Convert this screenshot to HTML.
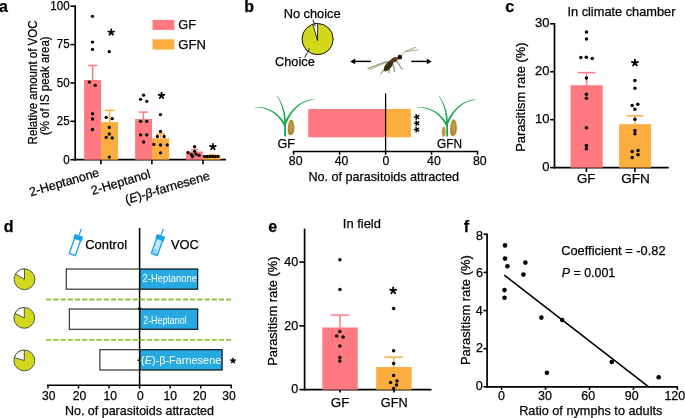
<!DOCTYPE html>
<html><head><meta charset="utf-8"><title>Figure</title>
<style>
html,body{margin:0;padding:0;background:#fff;width:685px;height:418px;overflow:hidden;}
svg{display:block;will-change:transform;font-family:"Liberation Sans",sans-serif;}
text{stroke:#000;stroke-width:0.25px;}
text.w{stroke:none;}
</style></head><body>
<svg width="685" height="418" viewBox="0 0 685 418">
<text x="-0.9" y="11.7" font-size="16" font-weight="bold">a</text>
<line x1="75.20" y1="5.35" x2="75.20" y2="160.55" stroke="#000" stroke-width="1.7" />
<line x1="70.40" y1="159.70" x2="75.20" y2="159.70" stroke="#000" stroke-width="1.6" />
<text x="63.18" y="163.55" font-size="12.0" textLength="6.41" lengthAdjust="spacingAndGlyphs" >0</text>
<line x1="70.40" y1="121.32" x2="75.20" y2="121.32" stroke="#000" stroke-width="1.6" />
<text x="56.82" y="125.17" font-size="12.0" textLength="12.81" lengthAdjust="spacingAndGlyphs" >25</text>
<line x1="70.40" y1="82.95" x2="75.20" y2="82.95" stroke="#000" stroke-width="1.6" />
<text x="56.78" y="86.80" font-size="12.0" textLength="12.81" lengthAdjust="spacingAndGlyphs" >50</text>
<line x1="70.40" y1="44.57" x2="75.20" y2="44.57" stroke="#000" stroke-width="1.6" />
<text x="56.82" y="48.42" font-size="12.0" textLength="12.81" lengthAdjust="spacingAndGlyphs" >75</text>
<line x1="70.40" y1="6.20" x2="75.20" y2="6.20" stroke="#000" stroke-width="1.6" />
<text x="50.37" y="10.05" font-size="12.0" textLength="19.22" lengthAdjust="spacingAndGlyphs" >100</text>
<line x1="74.35" y1="159.70" x2="226.00" y2="159.70" stroke="#000" stroke-width="1.7" />
<line x1="100.90" y1="159.70" x2="100.90" y2="164.20" stroke="#000" stroke-width="1.6" />
<line x1="151.90" y1="159.70" x2="151.90" y2="164.20" stroke="#000" stroke-width="1.6" />
<line x1="203.00" y1="159.70" x2="203.00" y2="164.20" stroke="#000" stroke-width="1.6" />
<line x1="92.60" y1="65.50" x2="92.60" y2="80.00" stroke="#fe7a80" stroke-width="1.5" />
<line x1="88.00" y1="65.50" x2="97.20" y2="65.50" stroke="#fe7a80" stroke-width="1.5" />
<line x1="109.60" y1="110.30" x2="109.60" y2="122.10" stroke="#fbae3f" stroke-width="1.5" />
<line x1="105.00" y1="110.30" x2="114.20" y2="110.30" stroke="#fbae3f" stroke-width="1.5" />
<line x1="143.40" y1="112.10" x2="143.40" y2="119.00" stroke="#fe7a80" stroke-width="1.5" />
<line x1="138.80" y1="112.10" x2="148.00" y2="112.10" stroke="#fe7a80" stroke-width="1.5" />
<line x1="160.60" y1="133.90" x2="160.60" y2="138.30" stroke="#fbae3f" stroke-width="1.5" />
<line x1="156.30" y1="133.90" x2="164.90" y2="133.90" stroke="#fbae3f" stroke-width="1.5" />
<line x1="194.60" y1="149.50" x2="194.60" y2="151.50" stroke="#fe7a80" stroke-width="1.5" />
<line x1="191.10" y1="149.50" x2="198.10" y2="149.50" stroke="#fe7a80" stroke-width="1.5" />
<line x1="211.70" y1="154.60" x2="211.70" y2="155.60" stroke="#fbae3f" stroke-width="1.5" />
<line x1="208.70" y1="154.60" x2="214.70" y2="154.60" stroke="#fbae3f" stroke-width="1.5" />
<rect x="84.10" y="80.00" width="17.00" height="79.70" fill="#fe7a80" />
<rect x="101.10" y="122.10" width="17.00" height="37.60" fill="#fbae3f" />
<rect x="135.10" y="119.00" width="16.90" height="40.70" fill="#fe7a80" />
<rect x="152.00" y="138.30" width="17.20" height="21.40" fill="#fbae3f" />
<rect x="186.20" y="151.50" width="16.80" height="8.20" fill="#fe7a80" />
<rect x="203.00" y="155.60" width="17.50" height="4.10" fill="#fbae3f" />
<circle cx="92.50" cy="16.30" r="1.65"/>
<circle cx="92.50" cy="42.10" r="1.65"/>
<circle cx="92.50" cy="49.40" r="1.65"/>
<circle cx="89.30" cy="82.10" r="1.65"/>
<circle cx="95.30" cy="85.30" r="1.65"/>
<circle cx="92.50" cy="113.70" r="1.65"/>
<circle cx="92.50" cy="119.00" r="1.65"/>
<circle cx="92.50" cy="129.50" r="1.65"/>
<circle cx="109.30" cy="51.70" r="1.65"/>
<circle cx="106.20" cy="117.40" r="1.65"/>
<circle cx="112.20" cy="118.70" r="1.65"/>
<circle cx="109.30" cy="127.40" r="1.65"/>
<circle cx="109.30" cy="134.00" r="1.65"/>
<circle cx="106.20" cy="137.40" r="1.65"/>
<circle cx="112.20" cy="137.90" r="1.65"/>
<circle cx="109.30" cy="157.10" r="1.65"/>
<circle cx="140.60" cy="99.30" r="1.65"/>
<circle cx="143.60" cy="95.20" r="1.65"/>
<circle cx="146.70" cy="101.30" r="1.65"/>
<circle cx="140.60" cy="121.30" r="1.65"/>
<circle cx="146.70" cy="121.30" r="1.65"/>
<circle cx="140.60" cy="134.90" r="1.65"/>
<circle cx="146.70" cy="134.90" r="1.65"/>
<circle cx="143.60" cy="142.00" r="1.65"/>
<circle cx="160.50" cy="114.60" r="1.65"/>
<circle cx="160.50" cy="131.40" r="1.65"/>
<circle cx="157.40" cy="136.50" r="1.65"/>
<circle cx="164.10" cy="136.50" r="1.65"/>
<circle cx="153.80" cy="144.40" r="1.65"/>
<circle cx="160.50" cy="145.00" r="1.65"/>
<circle cx="167.20" cy="145.00" r="1.65"/>
<circle cx="160.50" cy="152.80" r="1.65"/>
<circle cx="194.60" cy="146.70" r="1.65"/>
<circle cx="194.60" cy="151.30" r="1.65"/>
<circle cx="188.00" cy="152.60" r="1.65"/>
<circle cx="191.40" cy="154.60" r="1.65"/>
<circle cx="196.10" cy="154.20" r="1.65"/>
<circle cx="199.10" cy="155.40" r="1.65"/>
<circle cx="192.50" cy="156.50" r="1.65"/>
<circle cx="204.50" cy="156.40" r="1.65"/>
<circle cx="207.20" cy="156.50" r="1.65"/>
<circle cx="209.90" cy="156.40" r="1.65"/>
<circle cx="212.60" cy="156.40" r="1.65"/>
<circle cx="215.30" cy="156.50" r="1.65"/>
<circle cx="218.00" cy="156.30" r="1.65"/>
<path d="M111.20,32.40 L111.20,29.40 M111.20,32.40 L114.05,31.47 M111.20,32.40 L112.96,34.83 M111.20,32.40 L109.44,34.83 M111.20,32.40 L108.35,31.47 " stroke="#000" stroke-width="1.75" stroke-linecap="round" fill="none"/>
<path d="M161.50,95.60 L161.50,92.60 M161.50,95.60 L164.35,94.67 M161.50,95.60 L163.26,98.03 M161.50,95.60 L159.74,98.03 M161.50,95.60 L158.65,94.67 " stroke="#000" stroke-width="1.75" stroke-linecap="round" fill="none"/>
<path d="M212.90,146.80 L212.90,143.80 M212.90,146.80 L215.75,145.87 M212.90,146.80 L214.66,149.23 M212.90,146.80 L211.14,149.23 M212.90,146.80 L210.05,145.87 " stroke="#000" stroke-width="1.75" stroke-linecap="round" fill="none"/>
<rect x="152.50" y="19.90" width="21.80" height="10.00" fill="#fe7a80" />
<rect x="152.50" y="39.30" width="21.80" height="10.30" fill="#fbae3f" />
<text x="178.26" y="29.20" font-size="13" textLength="17.87" lengthAdjust="spacingAndGlyphs" >GF</text>
<text x="178.25" y="48.80" font-size="13" textLength="27.64" lengthAdjust="spacingAndGlyphs" >GFN</text>
<text transform="translate(37.00,144.40) rotate(-90)" font-size="12.8" textLength="123.85" lengthAdjust="spacingAndGlyphs">Relative amount of VOC</text>
<text transform="translate(49.00,135.06) rotate(-90)" font-size="12.8" textLength="98.69" lengthAdjust="spacingAndGlyphs">(% of IS peak area)</text>
<text transform="translate(100.00,176.00) rotate(-16.5)" font-size="12.5" text-anchor="end">2-Heptanone</text>
<text transform="translate(151.20,177.60) rotate(-16.5)" font-size="12.5" text-anchor="end">2-Heptanol</text>
<text transform="translate(210.60,179.20) rotate(-16.5)" font-size="12.5" text-anchor="end">(<tspan font-style="italic">E</tspan>)-<tspan font-style="italic">β</tspan>-farnesene</text>
<text x="244.2" y="11.7" font-size="16" font-weight="bold">b</text>
<text x="283.69" y="17.60" font-size="12.8" textLength="56.88" lengthAdjust="spacingAndGlyphs" >No choice</text>
<text x="275.06" y="66.45" font-size="12.8" textLength="39.71" lengthAdjust="spacingAndGlyphs" >Choice</text>
<circle cx="317.6" cy="39.1" r="15.6" fill="#d3d81d" stroke="#111" stroke-width="1"/>
<path d="M317.6,40.6 L312.78,24.26 A15.6,15.6 0 0 1 317.6,23.5 Z" fill="#fff" stroke="#111" stroke-width="0.9"/>
<line x1="312.80" y1="19.60" x2="315.40" y2="26.30" stroke="#111" stroke-width="0.9" />
<line x1="309.50" y1="48.40" x2="304.70" y2="57.60" stroke="#111" stroke-width="0.9" />
<line x1="370.90" y1="61.40" x2="353.70" y2="61.40" stroke="#000" stroke-width="1.5" />
<path d="M350.2,61.4 L355.20,58.60 L355.20,64.20 Z"/>
<line x1="411.20" y1="61.40" x2="428.30" y2="61.40" stroke="#000" stroke-width="1.5" />
<path d="M431.8,61.4 L426.80,58.60 L426.80,64.20 Z"/>
<g stroke-linecap="round" stroke-linejoin="round" fill="none">
<path d="M387,61.5 L368.2,68.4" stroke="#98a37a" stroke-width="1.5"/>
<path d="M385,63.2 L369.8,69.6" stroke="#aeb693" stroke-width="0.9"/>
<path d="M385.5,68.5 L383,71.2 L380.6,74" stroke="#8f9b70" stroke-width="1.1"/>
<path d="M389,66 L389.2,69.3 L388.9,72.7" stroke="#8f9b70" stroke-width="1.3"/>
<path d="M392,63.5 L393.6,66.2 L394.5,71.4" stroke="#8f9b70" stroke-width="1.3"/>
<path d="M396,61 L398.5,63.4 L401,68 L402.9,68.7" stroke="#8f9b70" stroke-width="1.2"/>
<path d="M401,55.5 L405.4,51.4 L411,49 L416,47.3" stroke="#a3ab86" stroke-width="1"/>
<path d="M405.2,51.8 L412,50.6 L418.3,49.9" stroke="#a3ab86" stroke-width="1"/>
<ellipse cx="388.6" cy="65.6" rx="6.9" ry="3.1" transform="rotate(-52 388.6 65.6)" fill="#3b2911" stroke="none"/>
<ellipse cx="394.2" cy="59.9" rx="3.8" ry="2.4" transform="rotate(-28 394.2 59.9)" fill="#5a3b18" stroke="none"/>
<path d="M386.5,66 C388,63.5 390,61.8 392.5,60.6" stroke="#6a4a22" stroke-width="1" opacity="0.7"/>
<ellipse cx="399.8" cy="57.2" rx="2.3" ry="2.4" fill="#15120c" stroke="none"/>
</g>
<path d="M286.00,136.50 L286.00,135.93 L286.00,135.37 L286.00,134.81 L286.00,134.25 L285.99,133.69 L285.99,133.13 L285.99,132.58 L285.99,132.02 L285.99,131.47 L285.99,130.92 L285.99,130.37 L285.98,129.83 L285.98,129.28 L285.98,128.74 L285.98,128.19 L285.98,127.65 L285.97,127.11 L285.97,126.57 L285.97,126.03 L285.97,125.49 L285.97,124.95 L285.96,124.42 L285.96,123.88 L285.96,123.34 L285.96,122.81 L285.95,122.27 L285.95,121.74 L285.95,121.20 L284.25,121.20 L284.25,121.74 L284.25,122.27 L284.24,122.81 L284.24,123.34 L284.24,123.88 L284.24,124.42 L284.23,124.95 L284.23,125.49 L284.23,126.03 L284.23,126.57 L284.23,127.11 L284.22,127.65 L284.22,128.19 L284.22,128.74 L284.22,129.28 L284.22,129.83 L284.21,130.37 L284.21,130.92 L284.21,131.47 L284.21,132.02 L284.21,132.58 L284.21,133.13 L284.21,133.69 L284.20,134.25 L284.20,134.81 L284.20,135.37 L284.20,135.93 L284.20,136.50 Z" fill="#16a84a"/>
<path d="M285.95,122.15 L285.88,121.08 L285.79,120.01 L285.68,118.94 L285.56,117.89 L285.42,116.84 L285.26,115.81 L285.08,114.78 L284.89,113.76 L284.68,112.76 L284.45,111.76 L284.21,110.77 L283.95,109.80 L283.67,108.83 L283.37,107.88 L283.05,106.93 L282.72,106.00 L282.37,105.09 L282.00,104.18 L281.61,103.29 L281.21,102.41 L280.78,101.54 L280.34,100.69 L279.88,99.84 L279.40,99.02 L278.91,98.21 L278.39,97.41 L277.86,96.63 L277.31,95.86 L276.89,96.14 L277.39,96.93 L277.87,97.73 L278.34,98.54 L278.78,99.37 L279.20,100.20 L279.61,101.05 L279.99,101.91 L280.36,102.78 L280.71,103.66 L281.05,104.55 L281.36,105.46 L281.66,106.37 L281.94,107.29 L282.21,108.22 L282.45,109.17 L282.69,110.12 L282.90,111.08 L283.10,112.05 L283.28,113.03 L283.45,114.02 L283.60,115.02 L283.74,116.03 L283.86,117.04 L283.96,118.07 L284.06,119.10 L284.13,120.14 L284.20,121.19 L284.25,122.25 Z" fill="#16a84a"/>
<path d="M285.93,125.23 L285.26,124.06 L284.56,122.91 L283.83,121.79 L283.07,120.70 L282.28,119.64 L281.47,118.62 L280.62,117.63 L279.75,116.68 L278.84,115.76 L277.91,114.88 L276.94,114.04 L275.94,113.25 L274.91,112.49 L273.84,111.78 L272.74,111.11 L271.60,110.49 L270.43,109.92 L269.23,109.39 L267.99,108.91 L266.71,108.49 L265.40,108.11 L264.04,107.79 L262.65,107.51 L261.22,107.30 L259.76,107.13 L258.25,107.02 L256.69,106.97 L255.10,106.98 L255.10,107.42 L256.67,107.49 L258.20,107.60 L259.68,107.78 L261.12,108.00 L262.50,108.28 L263.85,108.60 L265.15,108.98 L266.40,109.40 L267.62,109.87 L268.80,110.38 L269.93,110.94 L271.03,111.54 L272.09,112.19 L273.11,112.87 L274.10,113.59 L275.05,114.36 L275.98,115.15 L276.87,115.99 L277.73,116.86 L278.56,117.77 L279.36,118.71 L280.13,119.68 L280.88,120.69 L281.60,121.72 L282.30,122.79 L282.98,123.88 L283.63,125.01 L284.27,126.17 Z" fill="#16a84a"/>
<path d="M286.18,124.05 L286.70,122.73 L287.25,121.43 L287.84,120.14 L288.46,118.88 L289.12,117.63 L289.82,116.40 L290.55,115.20 L291.32,114.03 L292.13,112.88 L292.98,111.77 L293.86,110.69 L294.77,109.64 L295.73,108.64 L296.71,107.67 L297.74,106.75 L298.80,105.88 L299.89,105.05 L301.02,104.28 L302.19,103.55 L303.39,102.89 L304.63,102.27 L305.91,101.72 L307.22,101.24 L308.56,100.81 L309.95,100.46 L311.36,100.17 L312.82,99.96 L314.32,99.82 L314.28,99.38 L312.77,99.45 L311.28,99.60 L309.82,99.82 L308.38,100.12 L306.98,100.50 L305.61,100.94 L304.27,101.45 L302.97,102.02 L301.69,102.66 L300.45,103.36 L299.25,104.11 L298.07,104.92 L296.94,105.79 L295.84,106.70 L294.77,107.66 L293.74,108.67 L292.75,109.72 L291.80,110.81 L290.88,111.93 L290.00,113.10 L289.16,114.29 L288.36,115.51 L287.60,116.77 L286.88,118.04 L286.20,119.34 L285.56,120.67 L284.97,122.00 L284.42,123.35 Z" fill="#16a84a"/>
<path d="M448.00,136.50 L448.00,135.93 L448.00,135.37 L448.00,134.81 L448.00,134.25 L447.99,133.69 L447.99,133.13 L447.99,132.58 L447.99,132.02 L447.99,131.47 L447.99,130.92 L447.99,130.37 L447.98,129.83 L447.98,129.28 L447.98,128.74 L447.98,128.19 L447.98,127.65 L447.97,127.11 L447.97,126.57 L447.97,126.03 L447.97,125.49 L447.97,124.95 L447.96,124.42 L447.96,123.88 L447.96,123.34 L447.96,122.81 L447.95,122.27 L447.95,121.74 L447.95,121.20 L446.25,121.20 L446.25,121.74 L446.25,122.27 L446.24,122.81 L446.24,123.34 L446.24,123.88 L446.24,124.42 L446.23,124.95 L446.23,125.49 L446.23,126.03 L446.23,126.57 L446.23,127.11 L446.22,127.65 L446.22,128.19 L446.22,128.74 L446.22,129.28 L446.22,129.83 L446.21,130.37 L446.21,130.92 L446.21,131.47 L446.21,132.02 L446.21,132.58 L446.21,133.13 L446.21,133.69 L446.20,134.25 L446.20,134.81 L446.20,135.37 L446.20,135.93 L446.20,136.50 Z" fill="#16a84a"/>
<path d="M447.95,122.15 L447.88,121.08 L447.79,120.01 L447.68,118.94 L447.56,117.89 L447.42,116.84 L447.26,115.81 L447.08,114.78 L446.89,113.76 L446.68,112.76 L446.45,111.76 L446.21,110.77 L445.95,109.80 L445.67,108.83 L445.37,107.88 L445.05,106.93 L444.72,106.00 L444.37,105.09 L444.00,104.18 L443.61,103.29 L443.21,102.41 L442.78,101.54 L442.34,100.69 L441.88,99.84 L441.40,99.02 L440.91,98.21 L440.39,97.41 L439.86,96.63 L439.31,95.86 L438.89,96.14 L439.39,96.93 L439.87,97.73 L440.34,98.54 L440.78,99.37 L441.20,100.20 L441.61,101.05 L441.99,101.91 L442.36,102.78 L442.71,103.66 L443.05,104.55 L443.36,105.46 L443.66,106.37 L443.94,107.29 L444.21,108.22 L444.45,109.17 L444.69,110.12 L444.90,111.08 L445.10,112.05 L445.28,113.03 L445.45,114.02 L445.60,115.02 L445.74,116.03 L445.86,117.04 L445.96,118.07 L446.06,119.10 L446.13,120.14 L446.20,121.19 L446.25,122.25 Z" fill="#16a84a"/>
<path d="M447.93,125.23 L447.26,124.06 L446.56,122.91 L445.83,121.79 L445.07,120.70 L444.28,119.64 L443.47,118.62 L442.62,117.63 L441.75,116.68 L440.84,115.76 L439.91,114.88 L438.94,114.04 L437.94,113.25 L436.91,112.49 L435.84,111.78 L434.74,111.11 L433.60,110.49 L432.43,109.92 L431.23,109.39 L429.99,108.91 L428.71,108.49 L427.40,108.11 L426.04,107.79 L424.65,107.51 L423.22,107.30 L421.76,107.13 L420.25,107.02 L418.69,106.97 L417.10,106.98 L417.10,107.42 L418.67,107.49 L420.20,107.60 L421.68,107.78 L423.12,108.00 L424.50,108.28 L425.85,108.60 L427.15,108.98 L428.40,109.40 L429.62,109.87 L430.80,110.38 L431.93,110.94 L433.03,111.54 L434.09,112.19 L435.11,112.87 L436.10,113.59 L437.05,114.36 L437.98,115.15 L438.87,115.99 L439.73,116.86 L440.56,117.77 L441.36,118.71 L442.13,119.68 L442.88,120.69 L443.60,121.72 L444.30,122.79 L444.98,123.88 L445.63,125.01 L446.27,126.17 Z" fill="#16a84a"/>
<path d="M448.18,124.05 L448.70,122.73 L449.25,121.43 L449.84,120.14 L450.46,118.88 L451.12,117.63 L451.82,116.40 L452.55,115.20 L453.32,114.03 L454.13,112.88 L454.98,111.77 L455.86,110.69 L456.77,109.64 L457.73,108.64 L458.71,107.67 L459.74,106.75 L460.80,105.88 L461.89,105.05 L463.02,104.28 L464.19,103.55 L465.39,102.89 L466.63,102.27 L467.91,101.72 L469.22,101.24 L470.56,100.81 L471.95,100.46 L473.36,100.17 L474.82,99.96 L476.32,99.82 L476.28,99.38 L474.77,99.45 L473.28,99.60 L471.82,99.82 L470.38,100.12 L468.98,100.50 L467.61,100.94 L466.27,101.45 L464.97,102.02 L463.69,102.66 L462.45,103.36 L461.25,104.11 L460.07,104.92 L458.94,105.79 L457.84,106.70 L456.77,107.66 L455.74,108.67 L454.75,109.72 L453.80,110.81 L452.88,111.93 L452.00,113.10 L451.16,114.29 L450.36,115.51 L449.60,116.77 L448.88,118.04 L448.20,119.34 L447.56,120.67 L446.97,122.00 L446.42,123.35 Z" fill="#16a84a"/>
<path d="M291.19,119.40 C293.95,120.19 294.30,124.93 294.30,128.88 C294.30,132.83 292.57,135.20 290.16,135.20 C288.09,135.20 287.40,132.83 287.75,128.09 C288.09,124.14 289.12,119.72 291.19,119.40 Z" fill="#b08a38"/>
<ellipse cx="291.19" cy="126.51" rx="1.73" ry="4.42" fill="#caa552" opacity="0.6"/>
<path d="M453.65,119.20 C456.45,120.04 456.80,125.08 456.80,129.28 C456.80,133.48 455.05,136.00 452.60,136.00 C450.50,136.00 449.80,133.48 450.15,128.44 C450.50,124.24 451.55,119.54 453.65,119.20 Z" fill="#b08a38"/>
<ellipse cx="453.65" cy="126.76" rx="1.75" ry="4.70" fill="#caa552" opacity="0.6"/>
<ellipse cx="443.65" cy="131.8" rx="1.9" ry="5.0" fill="#c09a48"/>
<text x="277.57" y="147.70" font-size="12.8" textLength="17.44" lengthAdjust="spacingAndGlyphs" >GF</text>
<text x="437.01" y="148.40" font-size="12.8" textLength="24.97" lengthAdjust="spacingAndGlyphs" >GFN</text>
<rect x="308.20" y="109.00" width="77.40" height="28.30" fill="#fe7a80" />
<rect x="385.60" y="109.00" width="25.30" height="28.30" fill="#fbae3f" />
<line x1="385.60" y1="93.40" x2="385.60" y2="151.60" stroke="#000" stroke-width="1.3" />
<path d="M416.80,117.00 L414.50,117.00 M416.80,117.00 L416.09,114.81 M416.80,117.00 L418.66,115.65 M416.80,117.00 L418.66,118.35 M416.80,117.00 L416.09,119.19 " stroke="#000" stroke-width="1.5" stroke-linecap="round" fill="none"/>
<path d="M416.80,123.30 L414.50,123.30 M416.80,123.30 L416.09,121.11 M416.80,123.30 L418.66,121.95 M416.80,123.30 L418.66,124.65 M416.80,123.30 L416.09,125.49 " stroke="#000" stroke-width="1.5" stroke-linecap="round" fill="none"/>
<path d="M416.80,129.60 L414.50,129.60 M416.80,129.60 L416.09,127.41 M416.80,129.60 L418.66,128.25 M416.80,129.60 L418.66,130.95 M416.80,129.60 L416.09,131.79 " stroke="#000" stroke-width="1.5" stroke-linecap="round" fill="none"/>
<line x1="292.80" y1="151.60" x2="478.30" y2="151.60" stroke="#000" stroke-width="1.5" />
<line x1="293.60" y1="151.60" x2="293.60" y2="154.80" stroke="#000" stroke-width="1.5" />
<text x="288.80" y="165.40" font-size="13" textLength="13.74" lengthAdjust="spacingAndGlyphs" >80</text>
<line x1="339.60" y1="151.60" x2="339.60" y2="154.80" stroke="#000" stroke-width="1.5" />
<text x="334.73" y="165.40" font-size="13" textLength="13.74" lengthAdjust="spacingAndGlyphs" >40</text>
<line x1="385.60" y1="151.60" x2="385.60" y2="154.80" stroke="#000" stroke-width="1.5" />
<text x="382.55" y="165.40" font-size="13" textLength="6.87" lengthAdjust="spacingAndGlyphs" >0</text>
<line x1="431.50" y1="151.60" x2="431.50" y2="154.80" stroke="#000" stroke-width="1.5" />
<text x="427.03" y="165.40" font-size="13" textLength="13.74" lengthAdjust="spacingAndGlyphs" >40</text>
<line x1="477.50" y1="151.60" x2="477.50" y2="154.80" stroke="#000" stroke-width="1.5" />
<text x="473.00" y="165.40" font-size="13" textLength="13.74" lengthAdjust="spacingAndGlyphs" >80</text>
<text x="308.47" y="181.40" font-size="12.6" textLength="150.55" lengthAdjust="spacingAndGlyphs" >No. of parasitoids attracted</text>
<text x="505.3" y="11.7" font-size="16" font-weight="bold">c</text>
<text x="567.42" y="15.90" font-size="12.8" textLength="108.10" lengthAdjust="spacingAndGlyphs" >In climate chamber</text>
<line x1="554.50" y1="22.95" x2="554.50" y2="168.45" stroke="#000" stroke-width="1.7" />
<line x1="550.10" y1="167.60" x2="554.50" y2="167.60" stroke="#000" stroke-width="1.6" />
<text x="542.17" y="170.80" font-size="13" textLength="7.23" lengthAdjust="spacingAndGlyphs" >0</text>
<line x1="550.10" y1="119.67" x2="554.50" y2="119.67" stroke="#000" stroke-width="1.6" />
<text x="534.94" y="122.87" font-size="13" textLength="14.46" lengthAdjust="spacingAndGlyphs" >10</text>
<line x1="550.10" y1="71.73" x2="554.50" y2="71.73" stroke="#000" stroke-width="1.6" />
<text x="534.94" y="74.93" font-size="13" textLength="14.46" lengthAdjust="spacingAndGlyphs" >20</text>
<line x1="550.10" y1="23.80" x2="554.50" y2="23.80" stroke="#000" stroke-width="1.6" />
<text x="534.94" y="27.00" font-size="13" textLength="14.46" lengthAdjust="spacingAndGlyphs" >30</text>
<line x1="553.65" y1="167.60" x2="668.80" y2="167.60" stroke="#000" stroke-width="1.7" />
<line x1="586.40" y1="167.60" x2="586.40" y2="172.00" stroke="#000" stroke-width="1.6" />
<line x1="634.90" y1="167.60" x2="634.90" y2="172.00" stroke="#000" stroke-width="1.6" />
<line x1="586.60" y1="72.60" x2="586.60" y2="85.20" stroke="#fe7a80" stroke-width="1.5" />
<line x1="577.90" y1="72.60" x2="595.30" y2="72.60" stroke="#fe7a80" stroke-width="1.5" />
<line x1="634.90" y1="115.80" x2="634.90" y2="124.20" stroke="#fbae3f" stroke-width="1.5" />
<line x1="626.50" y1="115.80" x2="643.30" y2="115.80" stroke="#fbae3f" stroke-width="1.5" />
<rect x="570.50" y="85.20" width="32.20" height="82.40" fill="#fe7a80" />
<rect x="619.10" y="124.20" width="31.90" height="43.40" fill="#fbae3f" />
<circle cx="586.50" cy="31.90" r="1.75"/>
<circle cx="586.50" cy="38.90" r="1.75"/>
<circle cx="580.80" cy="57.60" r="1.75"/>
<circle cx="586.30" cy="57.20" r="1.75"/>
<circle cx="592.30" cy="58.60" r="1.75"/>
<circle cx="586.40" cy="78.00" r="1.75"/>
<circle cx="586.40" cy="94.30" r="1.75"/>
<circle cx="586.40" cy="98.30" r="1.75"/>
<circle cx="586.40" cy="127.70" r="1.75"/>
<circle cx="586.40" cy="145.40" r="1.75"/>
<circle cx="586.40" cy="148.80" r="1.75"/>
<circle cx="634.90" cy="80.40" r="1.75"/>
<circle cx="634.90" cy="88.30" r="1.75"/>
<circle cx="632.20" cy="105.60" r="1.75"/>
<circle cx="637.80" cy="104.30" r="1.75"/>
<circle cx="634.90" cy="109.30" r="1.75"/>
<circle cx="634.90" cy="119.30" r="1.75"/>
<circle cx="634.90" cy="130.50" r="1.75"/>
<circle cx="634.90" cy="133.70" r="1.75"/>
<circle cx="632.20" cy="151.40" r="1.75"/>
<circle cx="638.00" cy="150.50" r="1.75"/>
<circle cx="632.20" cy="157.40" r="1.75"/>
<circle cx="638.00" cy="154.80" r="1.75"/>
<path d="M634.90,62.90 L634.90,59.70 M634.90,62.90 L637.94,61.91 M634.90,62.90 L636.78,65.49 M634.90,62.90 L633.02,65.49 M634.90,62.90 L631.86,61.91 " stroke="#000" stroke-width="1.8" stroke-linecap="round" fill="none"/>
<text transform="translate(525.30,151.85) rotate(-90)" font-size="12.8" textLength="109.37" lengthAdjust="spacingAndGlyphs">Parasitism rate (%)</text>
<text x="577.04" y="182.60" font-size="12.8" textLength="18.40" lengthAdjust="spacingAndGlyphs" >GF</text>
<text x="621.22" y="182.60" font-size="12.8" textLength="28.71" lengthAdjust="spacingAndGlyphs" >GFN</text>
<text x="3.7" y="232.0" font-size="16" font-weight="bold">d</text>
<circle cx="24.5" cy="279.3" r="10.4" fill="#d3d81d" stroke="#333" stroke-width="0.8"/>
<path d="M24.5,279.3 L15.49,274.10 A10.4,10.4 0 0 1 24.5,268.90000000000003 Z" fill="#fff" stroke="#333" stroke-width="0.8"/>
<circle cx="24.3" cy="317.9" r="10.4" fill="#d3d81d" stroke="#333" stroke-width="0.8"/>
<path d="M24.3,317.9 L14.95,313.34 A10.4,10.4 0 0 1 24.3,307.5 Z" fill="#fff" stroke="#333" stroke-width="0.8"/>
<circle cx="24.3" cy="360.5" r="10.4" fill="#d3d81d" stroke="#333" stroke-width="0.8"/>
<path d="M24.3,360.5 L14.30,357.63 A10.4,10.4 0 0 1 24.3,350.1 Z" fill="#fff" stroke="#333" stroke-width="0.8"/>
<g transform="translate(75.5,245.4) rotate(19.4)"><rect x="-3.2" y="-9.4" width="6.4" height="19.0" fill="#fff" stroke="#12a4e6" stroke-width="1.35"/><path d="M-4.4,-10.6 L4.4,-10.6 L4.4,-6.0 L2.2,-6.0 L2.2,-4.8 L1.2,-6.0 L-0.6,-6.0 L-1.2,-4.2 L-1.8,-6.0 L-4.4,-6.0 Z" fill="#12a4e6"/><line x1="0" y1="-10.6" x2="0" y2="-17.6" stroke="#12a4e6" stroke-width="1.2"/></g>
<g transform="translate(157.5,245.4) rotate(19.4)"><rect x="-3.2" y="-9.4" width="6.4" height="19.0" fill="#c6e5f7" stroke="#12a4e6" stroke-width="1.35"/><path d="M-4.4,-10.6 L4.4,-10.6 L4.4,-6.0 L2.2,-6.0 L2.2,-4.8 L1.2,-6.0 L-0.6,-6.0 L-1.2,-4.2 L-1.8,-6.0 L-4.4,-6.0 Z" fill="#12a4e6"/><line x1="0" y1="-10.6" x2="0" y2="-17.6" stroke="#12a4e6" stroke-width="1.2"/><path d="M-2.2,8.3 L1.6,8.3 L-0.6,4.4 Z" fill="#e6f4fc" stroke="#12a4e6" stroke-width="0.6"/></g>
<text x="85.23" y="249.43" font-size="12.9" textLength="41.82" lengthAdjust="spacingAndGlyphs" >Control</text>
<text x="170.93" y="249.40" font-size="12.9" textLength="27.84" lengthAdjust="spacingAndGlyphs" >VOC</text>
<rect x="66.28" y="269.0" width="73.32" height="20.20" fill="#fff" stroke="#333" stroke-width="1.2"/>
<rect x="139.6" y="269.0" width="58.04" height="20.20" fill="#27a9e1" stroke="#111" stroke-width="1.2"/>
<rect x="69.33" y="309.0" width="70.27" height="20.30" fill="#fff" stroke="#333" stroke-width="1.2"/>
<rect x="139.6" y="309.0" width="58.04" height="20.30" fill="#27a9e1" stroke="#111" stroke-width="1.2"/>
<rect x="99.88" y="349.7" width="39.72" height="20.30" fill="#fff" stroke="#333" stroke-width="1.2"/>
<rect x="139.6" y="349.7" width="82.48" height="20.30" fill="#27a9e1" stroke="#111" stroke-width="1.2"/>
<text x="142.53" y="282.10" font-size="11" textLength="54.49" lengthAdjust="spacingAndGlyphs" fill="#fff" class="w">2-Heptanone</text>
<text x="143.16" y="323.50" font-size="11" textLength="43.43" lengthAdjust="spacingAndGlyphs" fill="#fff" class="w">2-Heptanol</text>
<text x="141.02" y="364.40" font-size="11" textLength="80.27" lengthAdjust="spacingAndGlyphs" fill="#fff" class="w">(<tspan font-style="italic">E</tspan>)-β-Farnesene</text>
<line x1="139.60" y1="228.00" x2="139.60" y2="385.30" stroke="#000" stroke-width="1.5" />
<line x1="46.00" y1="299.50" x2="231.00" y2="299.50" stroke="#8dc63f" stroke-width="1.8" stroke-dasharray="5.3 1.9"/>
<line x1="46.00" y1="339.80" x2="231.00" y2="339.80" stroke="#8dc63f" stroke-width="1.8" stroke-dasharray="5.3 1.9"/>
<path d="M233.00,360.70 L233.00,358.40 M233.00,360.70 L235.19,359.99 M233.00,360.70 L234.35,362.56 M233.00,360.70 L231.65,362.56 M233.00,360.70 L230.81,359.99 " stroke="#000" stroke-width="1.5" stroke-linecap="round" fill="none"/>
<ellipse cx="139.6" cy="308.7" rx="1.9" ry="1.1"/>
<line x1="137.30" y1="360.30" x2="139.60" y2="360.30" stroke="#000" stroke-width="1.2" />
<line x1="47.00" y1="385.30" x2="231.90" y2="385.30" stroke="#000" stroke-width="1.6" />
<line x1="47.95" y1="385.30" x2="47.95" y2="388.60" stroke="#000" stroke-width="1.5" />
<text x="42.04" y="399.80" font-size="12.4" textLength="13.52" lengthAdjust="spacingAndGlyphs" >30</text>
<line x1="78.50" y1="385.30" x2="78.50" y2="388.60" stroke="#000" stroke-width="1.5" />
<text x="72.87" y="399.80" font-size="12.4" textLength="13.52" lengthAdjust="spacingAndGlyphs" >20</text>
<line x1="109.05" y1="385.30" x2="109.05" y2="388.60" stroke="#000" stroke-width="1.5" />
<text x="103.51" y="399.80" font-size="12.4" textLength="13.52" lengthAdjust="spacingAndGlyphs" >10</text>
<line x1="139.60" y1="385.30" x2="139.60" y2="388.60" stroke="#000" stroke-width="1.5" />
<text x="137.01" y="399.80" font-size="12.4" textLength="6.76" lengthAdjust="spacingAndGlyphs" >0</text>
<line x1="170.15" y1="385.30" x2="170.15" y2="388.60" stroke="#000" stroke-width="1.5" />
<text x="163.51" y="399.80" font-size="12.4" textLength="13.52" lengthAdjust="spacingAndGlyphs" >10</text>
<line x1="200.70" y1="385.30" x2="200.70" y2="388.60" stroke="#000" stroke-width="1.5" />
<text x="193.07" y="399.80" font-size="12.4" textLength="13.52" lengthAdjust="spacingAndGlyphs" >20</text>
<line x1="231.25" y1="385.30" x2="231.25" y2="388.60" stroke="#000" stroke-width="1.5" />
<text x="222.24" y="399.80" font-size="12.4" textLength="13.52" lengthAdjust="spacingAndGlyphs" >30</text>
<text x="64.98" y="415.20" font-size="12.6" textLength="149.03" lengthAdjust="spacingAndGlyphs" >No. of parasitoids attracted</text>
<text x="268.2" y="232.0" font-size="16" font-weight="bold">e</text>
<text x="342.88" y="227.90" font-size="12.9" textLength="38.03" lengthAdjust="spacingAndGlyphs" >In field</text>
<line x1="304.60" y1="228.70" x2="304.60" y2="390.45" stroke="#000" stroke-width="1.7" />
<line x1="299.30" y1="389.60" x2="304.60" y2="389.60" stroke="#000" stroke-width="1.6" />
<text x="291.37" y="393.40" font-size="12.6" textLength="7.01" lengthAdjust="spacingAndGlyphs" >0</text>
<line x1="299.30" y1="325.85" x2="304.60" y2="325.85" stroke="#000" stroke-width="1.6" />
<text x="284.37" y="329.65" font-size="12.6" textLength="14.02" lengthAdjust="spacingAndGlyphs" >20</text>
<line x1="299.30" y1="262.10" x2="304.60" y2="262.10" stroke="#000" stroke-width="1.6" />
<text x="284.37" y="265.90" font-size="12.6" textLength="14.02" lengthAdjust="spacingAndGlyphs" >40</text>
<line x1="303.75" y1="389.60" x2="431.50" y2="389.60" stroke="#000" stroke-width="1.7" />
<line x1="340.10" y1="389.60" x2="340.10" y2="392.40" stroke="#000" stroke-width="1.6" />
<line x1="394.00" y1="389.60" x2="394.00" y2="392.40" stroke="#000" stroke-width="1.6" />
<line x1="340.00" y1="315.10" x2="340.00" y2="327.50" stroke="#fe7a80" stroke-width="1.5" />
<line x1="330.70" y1="315.10" x2="349.30" y2="315.10" stroke="#fe7a80" stroke-width="1.5" />
<line x1="393.80" y1="357.20" x2="393.80" y2="367.00" stroke="#fbae3f" stroke-width="1.5" />
<line x1="384.60" y1="357.20" x2="403.00" y2="357.20" stroke="#fbae3f" stroke-width="1.5" />
<rect x="322.30" y="327.50" width="35.50" height="62.10" fill="#fe7a80" />
<rect x="376.20" y="367.00" width="35.40" height="22.60" fill="#fbae3f" />
<circle cx="339.90" cy="259.70" r="1.75"/>
<circle cx="339.90" cy="289.40" r="1.75"/>
<circle cx="339.80" cy="331.60" r="1.75"/>
<circle cx="336.70" cy="335.90" r="1.75"/>
<circle cx="343.10" cy="337.10" r="1.75"/>
<circle cx="339.80" cy="346.00" r="1.75"/>
<circle cx="339.80" cy="357.50" r="1.75"/>
<circle cx="339.80" cy="361.00" r="1.75"/>
<circle cx="393.60" cy="308.40" r="1.75"/>
<circle cx="393.60" cy="350.80" r="1.75"/>
<circle cx="393.60" cy="363.40" r="1.75"/>
<circle cx="393.60" cy="375.40" r="1.75"/>
<circle cx="390.60" cy="382.60" r="1.75"/>
<circle cx="397.00" cy="380.90" r="1.75"/>
<circle cx="396.50" cy="385.00" r="1.75"/>
<circle cx="393.60" cy="388.40" r="1.75"/>
<path d="M393.20,290.60 L393.20,287.40 M393.20,290.60 L396.24,289.61 M393.20,290.60 L395.08,293.19 M393.20,290.60 L391.32,293.19 M393.20,290.60 L390.16,289.61 " stroke="#000" stroke-width="1.8" stroke-linecap="round" fill="none"/>
<text transform="translate(277.00,365.86) rotate(-90)" font-size="12.9" textLength="109.47" lengthAdjust="spacingAndGlyphs">Parasitism rate (%)</text>
<text x="330.83" y="406.50" font-size="12.8" textLength="18.51" lengthAdjust="spacingAndGlyphs" >GF</text>
<text x="380.76" y="406.50" font-size="12.8" textLength="26.89" lengthAdjust="spacingAndGlyphs" >GFN</text>
<text x="463.8" y="232.0" font-size="16" font-weight="bold">f</text>
<line x1="487.10" y1="233.45" x2="487.10" y2="387.65" stroke="#000" stroke-width="1.7" />
<line x1="483.50" y1="386.80" x2="487.10" y2="386.80" stroke="#000" stroke-width="1.6" />
<text x="475.87" y="389.50" font-size="12.6" textLength="7.01" lengthAdjust="spacingAndGlyphs" >0</text>
<line x1="483.50" y1="348.68" x2="487.10" y2="348.68" stroke="#000" stroke-width="1.6" />
<text x="476.02" y="352.00" font-size="12.6" textLength="7.01" lengthAdjust="spacingAndGlyphs" >2</text>
<line x1="483.50" y1="310.55" x2="487.10" y2="310.55" stroke="#000" stroke-width="1.6" />
<text x="475.77" y="314.50" font-size="12.6" textLength="7.01" lengthAdjust="spacingAndGlyphs" >4</text>
<line x1="483.50" y1="272.43" x2="487.10" y2="272.43" stroke="#000" stroke-width="1.6" />
<text x="475.95" y="277.00" font-size="12.6" textLength="7.01" lengthAdjust="spacingAndGlyphs" >6</text>
<line x1="483.50" y1="234.30" x2="487.10" y2="234.30" stroke="#000" stroke-width="1.6" />
<text x="475.95" y="239.50" font-size="12.6" textLength="7.01" lengthAdjust="spacingAndGlyphs" >8</text>
<line x1="486.25" y1="386.80" x2="677.80" y2="386.80" stroke="#000" stroke-width="1.7" />
<line x1="501.60" y1="386.80" x2="501.60" y2="389.90" stroke="#000" stroke-width="1.6" />
<text x="498.02" y="400.20" font-size="13.0" textLength="6.94" lengthAdjust="spacingAndGlyphs" >0</text>
<line x1="545.55" y1="386.80" x2="545.55" y2="389.90" stroke="#000" stroke-width="1.6" />
<text x="537.96" y="400.20" font-size="13.0" textLength="13.88" lengthAdjust="spacingAndGlyphs" >30</text>
<line x1="589.50" y1="386.80" x2="589.50" y2="389.90" stroke="#000" stroke-width="1.6" />
<text x="581.29" y="400.20" font-size="13.0" textLength="13.88" lengthAdjust="spacingAndGlyphs" >60</text>
<line x1="633.45" y1="386.80" x2="633.45" y2="389.90" stroke="#000" stroke-width="1.6" />
<text x="624.71" y="400.20" font-size="13.0" textLength="13.88" lengthAdjust="spacingAndGlyphs" >90</text>
<line x1="677.40" y1="386.80" x2="677.40" y2="389.90" stroke="#000" stroke-width="1.6" />
<text x="664.45" y="400.20" font-size="13.0" textLength="20.82" lengthAdjust="spacingAndGlyphs" >120</text>
<circle cx="505.00" cy="245.40" r="2.3"/>
<circle cx="505.00" cy="258.60" r="2.3"/>
<circle cx="507.40" cy="266.20" r="2.3"/>
<circle cx="525.40" cy="262.60" r="2.3"/>
<circle cx="523.40" cy="274.60" r="2.3"/>
<circle cx="504.50" cy="290.10" r="2.3"/>
<circle cx="504.50" cy="297.80" r="2.3"/>
<circle cx="541.30" cy="317.60" r="2.3"/>
<circle cx="562.20" cy="320.00" r="2.3"/>
<circle cx="611.80" cy="362.00" r="2.3"/>
<circle cx="546.90" cy="372.70" r="2.3"/>
<circle cx="658.70" cy="377.30" r="2.3"/>
<line x1="504.20" y1="275.10" x2="648.70" y2="386.80" stroke="#000" stroke-width="1.6" />
<text x="561.16" y="255.10" font-size="12.8" textLength="104.38" lengthAdjust="spacingAndGlyphs" >Coefficient = -0.82</text>
<text x="561.78" y="277.40" font-size="12.8" textLength="53.43" lengthAdjust="spacingAndGlyphs" ><tspan font-style="italic">P</tspan> = 0.001</text>
<text transform="translate(469.80,365.06) rotate(-90)" font-size="12.9" textLength="109.78" lengthAdjust="spacingAndGlyphs">Parasitism rate (%)</text>
<text x="519.16" y="414.60" font-size="12.6" textLength="143.19" lengthAdjust="spacingAndGlyphs" >Ratio of nymphs to adults</text>
</svg>
</body></html>
